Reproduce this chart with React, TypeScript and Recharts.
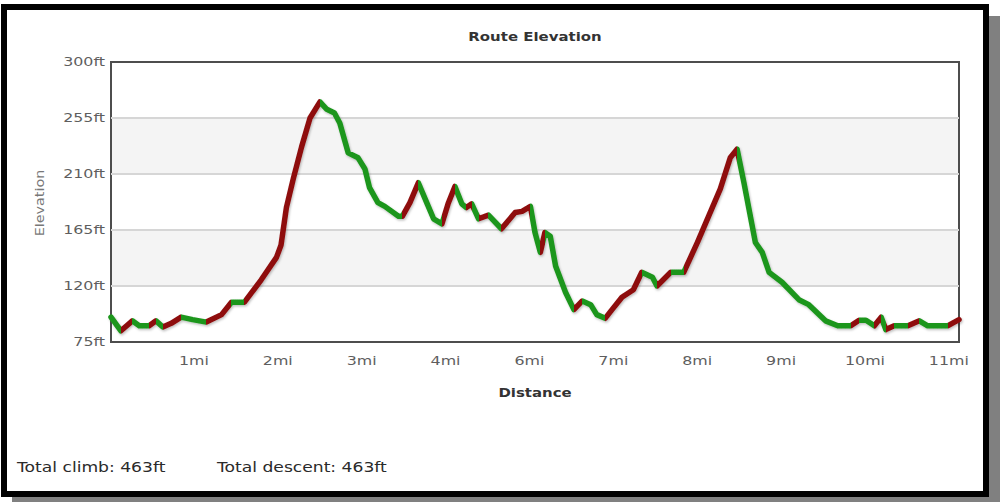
import React from "react";
import {
  LineChart,
  Line,
  XAxis,
  YAxis,
  ReferenceArea,
  ReferenceLine,
} from "recharts";

// route profile (miles / feet)
const distances = [
  0, 0.13, 0.28, 0.37, 0.5, 0.59, 0.68, 0.79, 0.92, 1.07, 1.25, 1.45, 1.58, 1.75,
  1.97, 2.17, 2.23, 2.3, 2.39, 2.5, 2.61, 2.74, 2.83, 2.93, 3.0, 3.11, 3.24, 3.33,
  3.39, 3.5, 3.59, 3.77, 3.82, 3.92, 4.03, 4.14, 4.23, 4.34, 4.42, 4.51, 4.6, 4.66,
  4.73, 4.82, 4.95, 5.12, 5.3, 5.39, 5.5, 5.56, 5.63, 5.69, 5.76, 5.83, 5.96, 6.07,
  6.18, 6.29, 6.37, 6.48, 6.57, 6.7, 6.85, 6.96, 7.1, 7.16, 7.34, 7.51, 7.69, 7.99,
  8.12, 8.21, 8.3, 8.45, 8.54, 8.63, 8.8, 9.02, 9.15, 9.37, 9.53, 9.7, 9.81, 9.9,
  10.01, 10.1, 10.16, 10.27, 10.45, 10.6, 10.71, 10.97, 11.12,
];
const elevations = [
  95, 84, 92, 88, 88, 92, 87, 90, 95, 93, 91, 97, 107, 107,
  125, 143, 153, 183, 206, 232, 255, 268, 262, 259, 251, 227, 223, 214,
  199, 187, 184, 176, 176, 187, 203, 187, 174, 170, 186, 200, 186, 183,
  186, 174, 177, 166, 179, 180, 184, 163, 147, 163, 160, 136, 115, 101,
  108, 105, 97, 94, 101, 111, 117, 131, 127, 120, 131, 131, 155, 198,
  223, 230, 203, 155, 147, 131, 123, 109, 105, 92, 88, 88, 92.5, 92.5,
  88, 95, 85, 88, 88, 92, 88, 88, 93,
];

const xTicks = [1.1, 2.2, 3.3, 4.4, 5.5, 6.6, 7.7, 8.8, 9.9, 11];
const xTickLabels = ["1mi", "2mi", "3mi", "4mi", "6mi", "7mi", "8mi", "9mi", "10mi", "11mi"];
const yTicks = [75, 120, 165, 210, 255, 300];
const shadedBands = [
  [120, 165],
  [210, 255],
];
const totalClimb = "463ft";
const totalDescent = "463ft";

const CLIMB = "#8e1111";
const DESCENT = "#1d961d";
const FONT = "'DejaVu Sans', Verdana, sans-serif";
const STRETCH = 1.38;

const data = distances.map((d, i) => ({ d, ft: elevations[i] }));

// hard colour stops: red while climbing, green otherwise
const span = distances[distances.length - 1] - distances[0];
const stops: { offset: number; color: string }[] = [];
for (let i = 0; i < distances.length - 1; i++) {
  const color = elevations[i + 1] > elevations[i] ? CLIMB : DESCENT;
  stops.push({ offset: (distances[i] - distances[0]) / span, color });
  stops.push({ offset: (distances[i + 1] - distances[0]) / span, color });
}

function YTick({ x, y, payload }: any) {
  return (
    <text
      transform={`translate(${x},${y}) scale(${STRETCH},1)`}
      textAnchor="end"
      dy="0.36em"
      fill="#5e5e5e"
      fontSize={11.5}
      fontFamily={FONT}
    >
      {payload.value}ft
    </text>
  );
}

function XTick({ x, y, index }: any) {
  return (
    <text
      transform={`translate(${x - 1},${y}) scale(${STRETCH},1)`}
      textAnchor="middle"
      dy="0.71em"
      fill="#5e5e5e"
      fontSize={11.5}
      fontFamily={FONT}
    >
      {xTickLabels[index]}
    </text>
  );
}

export default function App() {
  return (
    <div style={{ position: "absolute", left: 0, top: 0, width: 1000, height: 502, background: "#fff", overflow: "hidden" }}>
      <div
        style={{
          position: "absolute",
          left: 1,
          top: 4,
          width: 988,
          height: 493,
          boxSizing: "border-box",
          border: "6px solid #000",
          background: "#fff",
          boxShadow: "11px 12px 0 #808080",
        }}
      />
      <div style={{ position: "absolute", left: 0, top: 0 }}>
        <LineChart
          width={1000}
          height={502}
          data={data}
          margin={{ top: 62, right: 41, bottom: 130, left: 0 }}
        >
          <defs>
            <linearGradient id="elevStroke" x1="0" y1="0" x2="1" y2="0">
              {stops.map((s, i) => (
                <stop key={i} offset={s.offset} stopColor={s.color} />
              ))}
            </linearGradient>
            <filter id="lineShadow" x="-5%" y="-5%" width="110%" height="115%">
              <feDropShadow dx="1" dy="1.5" stdDeviation="1" floodColor="#000" floodOpacity="0.25" />
            </filter>
          </defs>
          <XAxis
            dataKey="d"
            type="number"
            domain={[0, 11.12]}
            ticks={xTicks}
            tick={<XTick />}
            tickLine={false}
            axisLine={false}
            tickSize={0}
            tickMargin={15}
            height={30}
            interval={0}
          />
          <YAxis
            type="number"
            domain={[75, 300]}
            ticks={yTicks}
            tick={<YTick />}
            tickLine={false}
            axisLine={false}
            tickSize={0}
            tickMargin={6}
            width={111}
            interval={0}
          />
          {shadedBands.map(([lo, hi]) => (
            <ReferenceArea key={lo} y1={lo} y2={hi} fill="#f4f4f4" fillOpacity={1} stroke="none" />
          ))}
          {yTicks.slice(1, -1).map((v) => (
            <ReferenceLine key={v} y={v} stroke="#d6d6d6" strokeWidth={2} />
          ))}
          <ReferenceArea x1={0} x2={11.12} y1={75} y2={300} fill="none" stroke="#4d4d4d" strokeWidth={2} />
          <Line
            dataKey="ft"
            type="linear"
            stroke="url(#elevStroke)"
            strokeWidth={5.5}
            strokeLinejoin="round"
            strokeLinecap="round"
            dot={false}
            activeDot={false}
            filter="url(#lineShadow)"
            isAnimationActive={false}
          />
        </LineChart>
      </div>
      <svg width={1000} height={502} style={{ position: "absolute", left: 0, top: 0, pointerEvents: "none" }} fontFamily={FONT}>
        <text transform={`translate(535,41) scale(1.3,1)`} textAnchor="middle" fontSize={11.5} fontWeight="bold" fill="#333">
          Route Elevation
        </text>
        <text transform={`translate(535,397) scale(1.3,1)`} textAnchor="middle" fontSize={11.5} fontWeight="bold" fill="#333">
          Distance
        </text>
        <text transform={`translate(44,203) rotate(-90) scale(1.25,1)`} textAnchor="middle" fontSize={11.5} fill="#777">
          Elevation
        </text>
        <text transform={`translate(17,472) scale(1.27,1)`} fontSize={13.5} fill="#2a2a2a">
          Total climb: {totalClimb}
        </text>
        <text transform={`translate(217,472) scale(1.27,1)`} fontSize={13.5} fill="#2a2a2a">
          Total descent: {totalDescent}
        </text>
      </svg>
    </div>
  );
}
